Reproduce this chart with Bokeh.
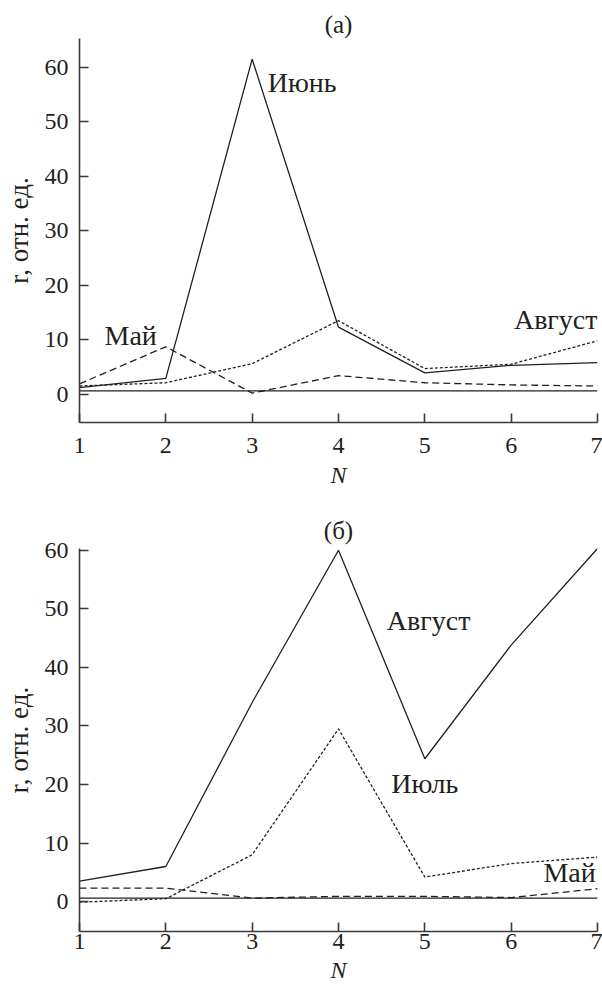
from bokeh.plotting import figure
from bokeh.layouts import column
from bokeh.models import Range1d, Span, Label, FixedTicker
from bokeh.embed import file_html
from bokeh.resources import INLINE

# ---------------- data ----------------
N = [1, 2, 3, 4, 5, 6, 7]
x_ticks = [1, 2, 3, 4, 5, 6, 7]
y_ticks = [0, 10, 20, 30, 40, 50, 60]
ref_level = 0.6

# panel (а)
a_june = [1.2, 2.9, 61.5, 12.3, 3.9, 5.3, 5.8]
a_august = [1.5, 2.1, 5.6, 13.5, 4.7, 5.5, 9.8]
a_may = [1.9, 8.7, 0.2, 3.4, 2.1, 1.7, 1.5]

# panel (б)
b_august = [3.5, 6.0, 34.0, 60.0, 24.4, 43.8, 60.3]
b_july = [-0.1, 0.5, 8.0, 29.5, 4.2, 6.5, 7.6]
b_may = [2.3, 2.3, 0.6, 0.9, 0.9, 0.7, 2.2]

FONT = "Liberation Serif"
INK = "#231f20"
AXC = "#3a3a3a"


def make_panel(title, yr, height, top, bottom, tick_standoff, lab_standoff, title_standoff):
    p = figure(width=602, height=height, x_range=Range1d(1, 7), y_range=Range1d(*yr),
               output_backend="svg", toolbar_location=None,
               min_border_left=76, min_border_right=5,
               min_border_top=top, min_border_bottom=bottom)
    p.title.text = title
    p.title.align = "center"
    p.title.text_font = FONT
    p.title.text_font_size = "25px"
    p.title.text_font_style = "normal"
    p.title.text_color = INK
    p.title.standoff = title_standoff
    p.outline_line_color = None
    p.grid.visible = False
    p.background_fill_color = "white"
    p.border_fill_color = "white"

    p.xaxis.ticker = FixedTicker(ticks=x_ticks)
    p.yaxis.ticker = FixedTicker(ticks=y_ticks)
    for ax in (p.xaxis, p.yaxis):
        ax.axis_line_color = AXC
        ax.axis_line_width = 1.6
        ax.major_tick_line_color = AXC
        ax.major_tick_line_width = 1.6
        ax.major_tick_in = 9
        ax.major_tick_out = 0
        ax.minor_tick_line_color = None
        ax.major_label_text_font = FONT
        ax.major_label_text_font_size = "24px"
        ax.major_label_text_color = INK
        ax.axis_label_text_font = FONT
        ax.axis_label_text_font_size = "24px"
        ax.axis_label_text_color = INK
    p.xaxis.axis_label = "N"
    p.xaxis.axis_label_text_font_style = "italic"
    p.xaxis.major_label_standoff = tick_standoff
    p.xaxis.axis_label_standoff = lab_standoff
    p.yaxis.axis_label = "r, отн. ед."
    p.yaxis.axis_label_text_font_style = "normal"
    p.yaxis.axis_label_text_font_size = "27px"
    p.yaxis.major_label_standoff = 11
    p.yaxis.axis_label_standoff = 8

    p.add_layout(Span(location=ref_level, dimension="width", line_color=INK, line_width=1.3))
    return p


def add_label(p, x, y, text, align="left"):
    p.add_layout(Label(x=x, y=y, text=text, text_font=FONT, text_font_size="28px",
                       text_color=INK, text_baseline="middle", text_align=align))


# ---- panel (а) ----
p1 = make_panel("(а)", (-5.2, 65.3), 498, 38, 76, 15, 6, 1)
p1.line(N, a_june, line_color=INK, line_width=1.3)
p1.line(N, a_august, line_color=INK, line_width=1.3, line_dash="3 2")
p1.line(N, a_may, line_color=INK, line_width=1.3, line_dash="7 4")
add_label(p1, 3.18, 57.3, "Июнь")
add_label(p1, 1.29, 10.75, "Май")
add_label(p1, 7.0, 13.8, "Август", align="right")

# ---- panel (б) ----
p2 = make_panel("(б)", (-5.1, 60.3), 494, 50, 61, 2, 5, 10)
p2.line(N, b_august, line_color=INK, line_width=1.3)
p2.line(N, b_july, line_color=INK, line_width=1.3, line_dash="3 2")
p2.line(N, b_may, line_color=INK, line_width=1.3, line_dash="7 4")
add_label(p2, 4.56, 48.0, "Август")
add_label(p2, 4.61, 20.1, "Июль")
add_label(p2, 6.98, 5.0, "Май", align="right")

layout = column(p1, p2, spacing=0)
open("out.html", "w").write(file_html(layout, INLINE))
